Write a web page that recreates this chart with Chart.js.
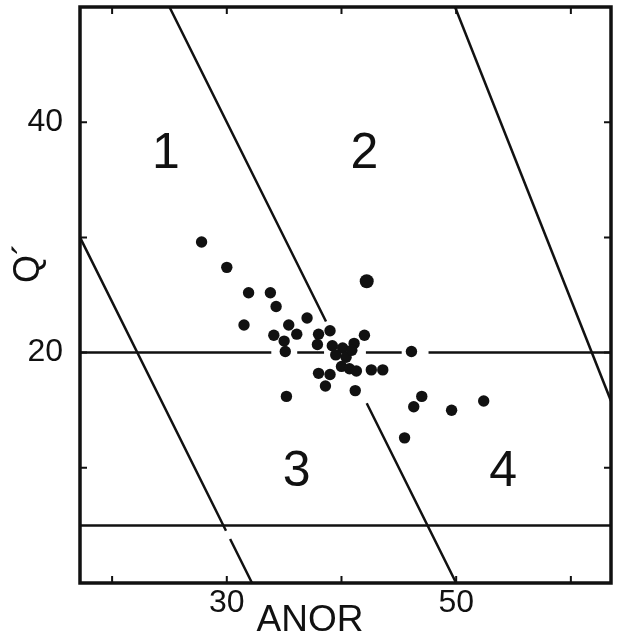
<!DOCTYPE html>
<html>
  <head>
    <script src="https://cdn.jsdelivr.net/npm/chart.js"></script>
    <style>
      body {
        margin: 0;
        background: #ffffff;
      }
    </style>
  </head>

  <body>
    <canvas id="scatter" width="618" height="644"></canvas>

    <script>
      // sample points: ANOR against Q'
      const anor = [
        27.8, 30.0, 31.9, 33.8, 34.3, 31.5, 37.0, 35.4, 36.1, 34.1, 35.0, 35.1,
        38.0, 39.0, 37.9, 39.2, 42.0, 41.1, 40.1, 39.5, 40.4, 40.9, 40.0, 40.7,
        41.3, 42.6, 43.6, 38.0, 39.0, 38.6, 41.2, 35.2, 46.1, 47.0, 46.3, 49.6,
        52.4, 45.5,
      ];
      const qPrime = [
        29.6, 27.4, 25.2, 25.2, 24.0, 22.4, 23.0, 22.4, 21.6, 21.5, 21.0, 20.1,
        21.6, 21.9, 20.7, 20.6, 21.5, 20.8, 20.4, 19.8, 19.6, 20.2, 18.8, 18.6,
        18.4, 18.5, 18.5, 18.2, 18.1, 17.1, 16.7, 16.2, 20.1, 16.2, 15.3, 15.0,
        15.8, 12.6,
      ];
      // the one larger dot
      const bigAnor = [42.2];
      const bigQ = [26.2];

      // field boundaries (null = break in the drawn line)
      const line1Anor = [17.2, 29.93, null, 30.29, 32.2];
      const line1Q = [30.0, 4.54, null, 3.82, 0];
      const line2Anor = [25.0, 38.65, null, 42.2, 50.0];
      const line2Q = [50, 22.7, null, 15.6, 0];
      const line3Anor = [49.9, 63.5];
      const line3Q = [50, 15.8];
      const q20Anor = [17.2, 33.88, null, 36.14, 38.48, null, 42.13, 45.25, null, 47.59, 63.5];
      const q20Q = [20, 20, null, 20, 20, null, 20, 20, null, 20, 20];
      const q5Anor = [17.2, 63.5];
      const q5Q = [5, 5];

      // field numbers
      const regionNames = ["1", "2", "3", "4"];
      const regionAnor = [24.7, 42.0, 36.1, 54.1];
      const regionQ = [37.2, 37.2, 9.6, 9.6];

      const anorLabelled = [30, 50];
      const qLabelled = [20, 40];

      const ink = "#111111";
      const font_family = "'Liberation Sans', Arial, sans-serif";

      function to_points(xs, ys) {
        return xs.map((x, i) => ({ x: x, y: ys[i] }));
      }

      function boundary(xs, ys) {
        return {
          data: to_points(xs, ys),
          showLine: true,
          spanGaps: false,
          borderColor: ink,
          borderWidth: 2.5,
          pointRadius: 0,
          fill: false,
        };
      }

      // no extra room for the end labels, the frame fills the canvas
      function fix_size(size) {
        return (scale) => {
          if (scale.isHorizontal()) scale.height = size;
          else scale.width = size;
          scale.paddingTop = 0;
          scale.paddingBottom = 0;
          scale.paddingLeft = 0;
          scale.paddingRight = 0;
        };
      }

      // frame, inward ticks, field numbers and axis names
      const frame_plugin = {
        id: "frame",
        afterDatasetsDraw(chart) {
          const { ctx, chartArea: a, scales } = chart;
          ctx.save();
          ctx.strokeStyle = ink;
          ctx.fillStyle = ink;

          ctx.lineWidth = 3.5;
          ctx.strokeRect(a.left, a.top, a.right - a.left, a.bottom - a.top);

          ctx.lineWidth = 2;
          ctx.beginPath();
          for (const t of scales.x.ticks) {
            const px = scales.x.getPixelForValue(t.value);
            ctx.moveTo(px, a.bottom);
            ctx.lineTo(px, a.bottom - 7);
            ctx.moveTo(px, a.top);
            ctx.lineTo(px, a.top + 7);
          }
          for (const t of scales.y.ticks) {
            const py = scales.y.getPixelForValue(t.value);
            ctx.moveTo(a.left, py);
            ctx.lineTo(a.left + 7, py);
            ctx.moveTo(a.right, py);
            ctx.lineTo(a.right - 7, py);
          }
          ctx.stroke();

          ctx.textAlign = "center";
          ctx.textBaseline = "middle";
          ctx.font = "50px " + font_family;
          regionNames.forEach((name, i) => {
            ctx.fillText(
              name,
              scales.x.getPixelForValue(regionAnor[i]),
              scales.y.getPixelForValue(regionQ[i])
            );
          });

          ctx.font = "37px " + font_family;
          ctx.fillText("ANOR", a.left + 230, a.bottom + 38);

          ctx.translate(a.left - 51, a.top + 256);
          ctx.rotate(-Math.PI / 2);
          ctx.font = "36px " + font_family;
          ctx.fillText("Q´", 0, 0);
          ctx.restore();
        },
      };

      const ctx = document.getElementById("scatter").getContext("2d");

      const chart = new Chart(ctx, {
        type: "scatter",
        data: {
          datasets: [
            {
              data: to_points(anor, qPrime),
              backgroundColor: ink,
              borderWidth: 0,
              pointRadius: 5.7,
            },
            {
              data: to_points(bigAnor, bigQ),
              backgroundColor: ink,
              borderWidth: 0,
              pointRadius: 7,
            },
            boundary(line1Anor, line1Q),
            boundary(line2Anor, line2Q),
            boundary(line3Anor, line3Q),
            boundary(q20Anor, q20Q),
            boundary(q5Anor, q5Q),
          ],
        },
        options: {
          responsive: false,
          animation: false,
          devicePixelRatio: 1,
          events: [],
          layout: {
            padding: { top: 5, right: 4, left: 0, bottom: 0 },
          },
          scales: {
            x: {
              type: "linear",
              min: 17.2,
              max: 63.5,
              afterFit: fix_size(61),
              border: { display: false },
              grid: { drawOnChartArea: false, drawTicks: false },
              ticks: {
                stepSize: 10,
                includeBounds: false,
                autoSkip: false,
                maxRotation: 0,
                padding: 1,
                color: ink,
                font: { family: font_family, size: 32 },
                callback: (v) => (anorLabelled.includes(v) ? String(v) : ""),
              },
            },
            y: {
              type: "linear",
              min: 0,
              max: 50,
              afterFit: fix_size(80),
              border: { display: false },
              grid: { drawOnChartArea: false, drawTicks: false },
              ticks: {
                stepSize: 10,
                includeBounds: false,
                autoSkip: false,
                padding: 17,
                color: ink,
                font: { family: font_family, size: 32 },
                callback: (v) => (qLabelled.includes(v) ? String(v) : ""),
              },
            },
          },
          plugins: {
            legend: { display: false },
            tooltip: { enabled: false },
          },
        },
        plugins: [frame_plugin],
      });
    </script>
  </body>
</html>
